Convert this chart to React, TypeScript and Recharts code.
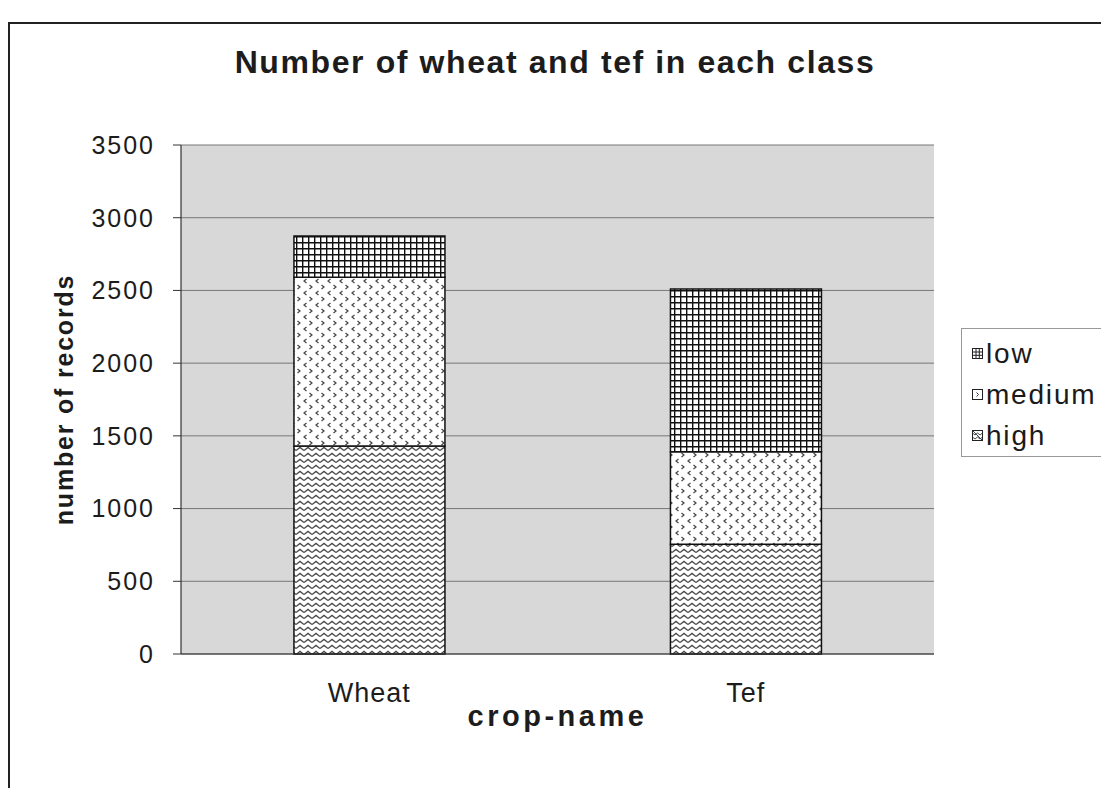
import React from 'react';
import { BarChart, Bar, XAxis, YAxis, CartesianGrid, Legend, Label } from 'recharts';

const categories = ['Wheat', 'Tef'];
const highValues = [1430, 755];
const mediumValues = [1160, 635];
const lowValues = [285, 1120];
const yTicks = [0, 500, 1000, 1500, 2000, 2500, 3000, 3500];
const legendNames = ['low', 'medium', 'high'];

const data = categories.map((c, i) => ({
  name: c,
  high: highValues[i],
  medium: mediumValues[i],
  low: lowValues[i],
}));

const FONT = '"Liberation Sans", Arial, Helvetica, sans-serif';

const LegendIcon = ({ kind }: { kind: string }) => (
  <svg width={11} height={11} style={{ display: 'block' }}>
    <rect x={0.5} y={0.5} width={10} height={10} fill="#fff" stroke="#222" strokeWidth={1} />
    {kind === 'low' && (
      <path d="M0.5 4H10.5 M0.5 7.3H10.5 M4 0.5V10.5 M7.3 0.5V10.5" stroke="#222" strokeWidth={1} />
    )}
    {kind === 'medium' && <path d="M4.5 3.5 L6.5 5.5 L4.5 7.5" stroke="#333" strokeWidth={1} fill="none" />}
    {kind === 'high' && (
      <path d="M0.5 3 L3 5 L5.5 3 L8 5 L10.5 3 M0.5 7 L3 9 L5.5 7 L8 9 L10.5 7 M1 1 L10 10" stroke="#333" strokeWidth={0.9} fill="none" />
    )}
  </svg>
);

const LegendContent = () => (
  <div
    style={{
      width: 146,
      height: 129,
      boxSizing: 'border-box',
      border: '1px solid #999',
      background: '#fff',
      paddingTop: 4,
      fontFamily: FONT,
    }}
  >
    {legendNames.map((n) => (
      <div key={n} style={{ height: 41, display: 'flex', alignItems: 'center' }}>
        <div style={{ width: 10, marginLeft: 10, marginRight: 4 }}>
          <LegendIcon kind={n} />
        </div>
        <span style={{ fontSize: 28, color: '#1a1a1a', letterSpacing: 1.8 }}>{n}</span>
      </div>
    ))}
  </div>
);

export default function App() {
  return (
    <div style={{ position: 'relative', width: 1101, height: 780, fontFamily: FONT }}>
      <div
        style={{
          position: 'absolute',
          left: 0,
          top: 14,
          width: 1099,
          height: 766,
          boxSizing: 'border-box',
          border: '2px solid #222',
          borderRight: 'none',
          borderBottom: 'none',
        }}
      />
      <div
        style={{
          position: 'absolute',
          left: 0,
          top: 35,
          width: 1094,
          textAlign: 'center',
          fontSize: 32,
          fontWeight: 'bold',
          color: '#1c1c1c',
          letterSpacing: 1.6,
          lineHeight: '38px',
        }}
      >
        Number of wheat and tef in each class
      </div>
      <BarChart
        width={1101}
        height={780}
        data={data}
        margin={{ top: 137, right: 175, bottom: 74, left: 93 }}
        barCategoryGap="30%"
        style={{ position: 'absolute', left: 0, top: 0 }}
      >
        <defs>
          <pattern id="pLow" width={6} height={6} patternUnits="userSpaceOnUse">
            <rect width={6} height={6} fill="#fff" />
            <path d="M0 0.7H6 M0.7 0V6" stroke="#101010" strokeWidth={1.4} />
          </pattern>
          <pattern id="pMed" width={12} height={12} patternUnits="userSpaceOnUse">
            <rect width={12} height={12} fill="#fff" />
            <path d="M1.5 1 L4 3 L1.5 5" stroke="#444" strokeWidth={1.2} fill="none" />
            <path d="M10.5 7 L8 9 L10.5 11" stroke="#444" strokeWidth={1.2} fill="none" />
          </pattern>
          <pattern id="pHigh" width={8} height={6} patternUnits="userSpaceOnUse">
            <rect width={8} height={6} fill="#fff" />
            <path d="M0 4.6 L4 1.4 L8 4.6" stroke="#4a4a4a" strokeWidth={1.3} fill="none" />
          </pattern>
        </defs>
        <CartesianGrid vertical={false} stroke="#777" strokeWidth={1} fill="#d8d8d8" />
        <XAxis
          dataKey="name"
          tickLine={false}
          tickSize={0}
          tickMargin={29}
          height={60}
          axisLine={{ stroke: '#333', strokeWidth: 1.2 }}
          tick={{ fontSize: 27, fill: '#1c1c1c', fontFamily: FONT, letterSpacing: 1 }}
        >
          <Label
            content={(props: any) => {
              const vb = props.viewBox || {};
              return (
                <text
                  x={vb.x + vb.width / 2}
                  y={718}
                  textAnchor="middle"
                  fontSize={29}
                  fontWeight="bold"
                  fill="#1c1c1c"
                  fontFamily={FONT}
                  letterSpacing={3.5}
                >
                  crop-name
                </text>
              );
            }}
          />
        </XAxis>
        <YAxis
          width={80}
          domain={[0, 3500]}
          ticks={yTicks}
          interval={0}
          tickSize={8}
          tickMargin={18}
          axisLine={{ stroke: '#333', strokeWidth: 1.2 }}
          tickLine={{ stroke: '#333' }}
          tick={{ fontSize: 25, fill: '#1c1c1c', fontFamily: FONT, letterSpacing: 2 }}
        >
          <Label
            content={(props: any) => {
              const vb = props.viewBox || {};
              const cy = vb.y + vb.height / 2;
              return (
                <text
                  x={65}
                  y={cy}
                  transform={`rotate(-90, 65, ${cy})`}
                  textAnchor="middle"
                  fontSize={25}
                  fontWeight="bold"
                  fill="#1c1c1c"
                  fontFamily={FONT}
                  letterSpacing={1.8}
                >
                  number of records
                </text>
              );
            }}
          />
        </YAxis>
        <YAxis
          yAxisId="right"
          orientation="right"
          width={0}
          domain={[0, 3500]}
          tick={false}
          tickLine={false}
          axisLine={{ stroke: '#888' }}
        />
        <Legend
          layout="vertical"
          align="center"
          verticalAlign="middle"
          content={LegendContent}
          wrapperStyle={{ position: 'absolute', left: 953, top: 320, width: 146, height: 129 }}
        />
        <Bar dataKey="high" name="high" stackId="s" fill="url(#pHigh)" stroke="#111" strokeWidth={1.5} isAnimationActive={false} />
        <Bar dataKey="medium" name="medium" stackId="s" fill="url(#pMed)" stroke="#111" strokeWidth={1.5} isAnimationActive={false} />
        <Bar dataKey="low" name="low" stackId="s" fill="url(#pLow)" stroke="#111" strokeWidth={1.5} isAnimationActive={false} />
      </BarChart>
    </div>
  );
}
